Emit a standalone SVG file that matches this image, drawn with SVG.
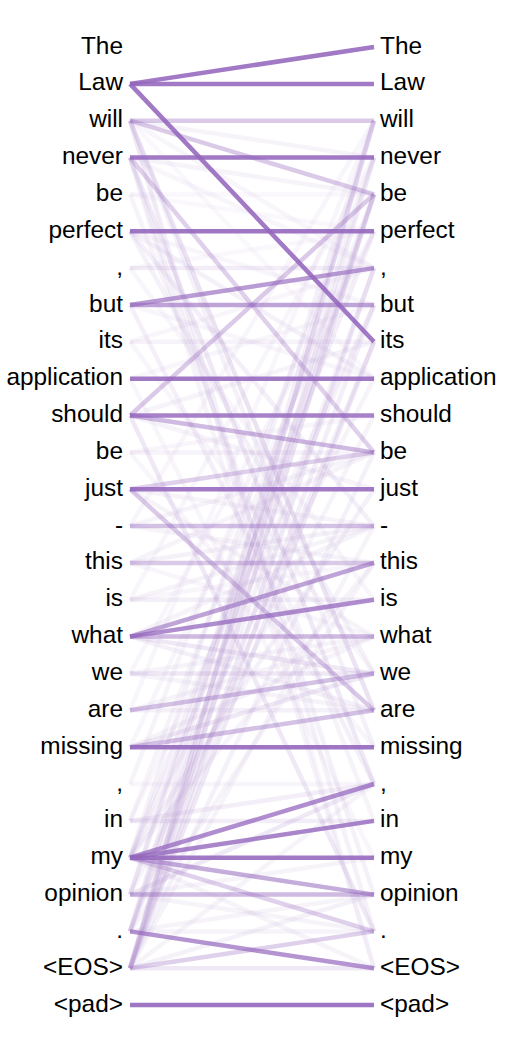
<svg xmlns="http://www.w3.org/2000/svg" width="514" height="1042" viewBox="0 0 514 1042">
<style>
.t{font-family:"Liberation Sans",Arial,sans-serif;font-size:24.4px;fill:#000}
.l{text-anchor:end}
.c line{stroke:#9467bd;stroke-width:4.5}
</style>
<rect width="514" height="1042" fill="#fff"/>
<g id="connectors" class="c">
<g opacity="0.72">
<line x1="130" y1="120.7" x2="374" y2="157.6" stroke-opacity="0.1"/>
<line x1="130" y1="120.7" x2="374" y2="268.1" stroke-opacity="0.08"/>
<line x1="130" y1="120.7" x2="374" y2="378.7" stroke-opacity="0.06"/>
<line x1="130" y1="120.7" x2="374" y2="747.2" stroke-opacity="0.12"/>
<line x1="130" y1="120.7" x2="374" y2="710.3" stroke-opacity="0.25"/>
<line x1="130" y1="120.7" x2="374" y2="931.4" stroke-opacity="0.12"/>
<line x1="130" y1="120.7" x2="374" y2="968.3" stroke-opacity="0.08"/>
<line x1="130" y1="157.6" x2="374" y2="194.4" stroke-opacity="0.1"/>
<line x1="130" y1="157.6" x2="374" y2="268.1" stroke-opacity="0.08"/>
<line x1="130" y1="157.6" x2="374" y2="784" stroke-opacity="0.2"/>
<line x1="130" y1="157.6" x2="374" y2="894.6" stroke-opacity="0.12"/>
<line x1="130" y1="157.6" x2="374" y2="968.3" stroke-opacity="0.1"/>
<line x1="130" y1="194.4" x2="374" y2="194.4" stroke-opacity="0.06"/>
<line x1="130" y1="194.4" x2="374" y2="231.3" stroke-opacity="0.06"/>
<line x1="130" y1="194.4" x2="374" y2="820.9" stroke-opacity="0.1"/>
<line x1="130" y1="231.3" x2="374" y2="378.7" stroke-opacity="0.12"/>
<line x1="130" y1="231.3" x2="374" y2="526.1" stroke-opacity="0.14"/>
<line x1="130" y1="231.3" x2="374" y2="305" stroke-opacity="0.08"/>
<line x1="130" y1="231.3" x2="374" y2="673.5" stroke-opacity="0.12"/>
<line x1="130" y1="268.1" x2="374" y2="231.3" stroke-opacity="0.06"/>
<line x1="130" y1="268.1" x2="374" y2="599.8" stroke-opacity="0.08"/>
<line x1="130" y1="305" x2="374" y2="378.7" stroke-opacity="0.08"/>
<line x1="130" y1="305" x2="374" y2="784" stroke-opacity="0.14"/>
<line x1="130" y1="341.8" x2="374" y2="268.1" stroke-opacity="0.08"/>
<line x1="130" y1="341.8" x2="374" y2="673.5" stroke-opacity="0.08"/>
<line x1="130" y1="378.7" x2="374" y2="305" stroke-opacity="0.08"/>
<line x1="130" y1="378.7" x2="374" y2="857.7" stroke-opacity="0.08"/>
<line x1="130" y1="415.5" x2="374" y2="489.2" stroke-opacity="0.1"/>
<line x1="130" y1="415.5" x2="374" y2="931.4" stroke-opacity="0.2"/>
<line x1="130" y1="415.5" x2="374" y2="341.8" stroke-opacity="0.1"/>
<line x1="130" y1="452.4" x2="374" y2="415.5" stroke-opacity="0.08"/>
<line x1="130" y1="452.4" x2="374" y2="747.2" stroke-opacity="0.08"/>
<line x1="130" y1="489.2" x2="374" y2="526.1" stroke-opacity="0.1"/>
<line x1="130" y1="489.2" x2="374" y2="636.6" stroke-opacity="0.1"/>
<line x1="130" y1="526.1" x2="374" y2="452.4" stroke-opacity="0.1"/>
<line x1="130" y1="526.1" x2="374" y2="562.9" stroke-opacity="0.1"/>
<line x1="130" y1="526.1" x2="374" y2="120.7" stroke-opacity="0.08"/>
<line x1="130" y1="562.9" x2="374" y2="526.1" stroke-opacity="0.12"/>
<line x1="130" y1="562.9" x2="374" y2="452.4" stroke-opacity="0.1"/>
<line x1="130" y1="562.9" x2="374" y2="636.6" stroke-opacity="0.08"/>
<line x1="130" y1="599.8" x2="374" y2="526.1" stroke-opacity="0.1"/>
<line x1="130" y1="599.8" x2="374" y2="562.9" stroke-opacity="0.08"/>
<line x1="130" y1="599.8" x2="374" y2="157.6" stroke-opacity="0.08"/>
<line x1="130" y1="636.6" x2="374" y2="673.5" stroke-opacity="0.2"/>
<line x1="130" y1="636.6" x2="374" y2="710.3" stroke-opacity="0.12"/>
<line x1="130" y1="636.6" x2="374" y2="526.1" stroke-opacity="0.1"/>
<line x1="130" y1="673.5" x2="374" y2="636.6" stroke-opacity="0.1"/>
<line x1="130" y1="673.5" x2="374" y2="710.3" stroke-opacity="0.1"/>
<line x1="130" y1="673.5" x2="374" y2="231.3" stroke-opacity="0.08"/>
<line x1="130" y1="710.3" x2="374" y2="710.3" stroke-opacity="0.12"/>
<line x1="130" y1="710.3" x2="374" y2="636.6" stroke-opacity="0.1"/>
<line x1="130" y1="710.3" x2="374" y2="120.7" stroke-opacity="0.08"/>
<line x1="130" y1="747.2" x2="374" y2="673.5" stroke-opacity="0.2"/>
<line x1="130" y1="747.2" x2="374" y2="636.6" stroke-opacity="0.1"/>
<line x1="130" y1="747.2" x2="374" y2="231.3" stroke-opacity="0.08"/>
<line x1="130" y1="784" x2="374" y2="784" stroke-opacity="0.08"/>
<line x1="130" y1="784" x2="374" y2="157.6" stroke-opacity="0.1"/>
<line x1="130" y1="820.9" x2="374" y2="784" stroke-opacity="0.15"/>
<line x1="130" y1="820.9" x2="374" y2="305" stroke-opacity="0.08"/>
<line x1="130" y1="820.9" x2="374" y2="194.4" stroke-opacity="0.1"/>
<line x1="130" y1="857.7" x2="374" y2="120.7" stroke-opacity="0.12"/>
<line x1="130" y1="857.7" x2="374" y2="231.3" stroke-opacity="0.15"/>
<line x1="130" y1="857.7" x2="374" y2="305" stroke-opacity="0.1"/>
<line x1="130" y1="857.7" x2="374" y2="489.2" stroke-opacity="0.12"/>
<line x1="130" y1="857.7" x2="374" y2="378.7" stroke-opacity="0.1"/>
<line x1="130" y1="857.7" x2="374" y2="562.9" stroke-opacity="0.1"/>
<line x1="130" y1="857.7" x2="374" y2="968.3" stroke-opacity="0.1"/>
<line x1="130" y1="894.6" x2="374" y2="784" stroke-opacity="0.2"/>
<line x1="130" y1="894.6" x2="374" y2="857.7" stroke-opacity="0.1"/>
<line x1="130" y1="894.6" x2="374" y2="931.4" stroke-opacity="0.1"/>
<line x1="130" y1="894.6" x2="374" y2="194.4" stroke-opacity="0.15"/>
<line x1="130" y1="894.6" x2="374" y2="157.6" stroke-opacity="0.12"/>
<line x1="130" y1="894.6" x2="374" y2="415.5" stroke-opacity="0.1"/>
<line x1="130" y1="931.4" x2="374" y2="894.6" stroke-opacity="0.1"/>
<line x1="130" y1="931.4" x2="374" y2="931.4" stroke-opacity="0.1"/>
<line x1="130" y1="931.4" x2="374" y2="194.4" stroke-opacity="0.2"/>
<line x1="130" y1="931.4" x2="374" y2="120.7" stroke-opacity="0.15"/>
<line x1="130" y1="931.4" x2="374" y2="341.8" stroke-opacity="0.15"/>
<line x1="130" y1="931.4" x2="374" y2="268.1" stroke-opacity="0.12"/>
<line x1="130" y1="931.4" x2="374" y2="562.9" stroke-opacity="0.1"/>
<line x1="130" y1="968.3" x2="374" y2="120.7" stroke-opacity="0.3"/>
<line x1="130" y1="968.3" x2="374" y2="194.4" stroke-opacity="0.25"/>
<line x1="130" y1="968.3" x2="374" y2="268.1" stroke-opacity="0.2"/>
<line x1="130" y1="968.3" x2="374" y2="341.8" stroke-opacity="0.2"/>
<line x1="130" y1="968.3" x2="374" y2="305" stroke-opacity="0.15"/>
<line x1="130" y1="968.3" x2="374" y2="157.6" stroke-opacity="0.15"/>
<line x1="130" y1="968.3" x2="374" y2="894.6" stroke-opacity="0.12"/>
<line x1="130" y1="968.3" x2="374" y2="784" stroke-opacity="0.1"/>
<line x1="130" y1="968.3" x2="374" y2="526.1" stroke-opacity="0.1"/>
<line x1="130" y1="968.3" x2="374" y2="452.4" stroke-opacity="0.12"/>
</g>
<line x1="130" y1="968.3" x2="374" y2="931.4" stroke-opacity="0.3"/>
<line x1="130" y1="968.3" x2="374" y2="968.3" stroke-opacity="0.15"/>
<line x1="130" y1="83.9" x2="374" y2="47" stroke-opacity="0.88"/>
<line x1="130" y1="83.9" x2="374" y2="83.9" stroke-opacity="0.88"/>
<line x1="130" y1="83.9" x2="374" y2="341.8" stroke-opacity="0.88"/>
<line x1="130" y1="120.7" x2="374" y2="120.7" stroke-opacity="0.35"/>
<line x1="130" y1="120.7" x2="374" y2="194.4" stroke-opacity="0.35"/>
<line x1="130" y1="157.6" x2="374" y2="157.6" stroke-opacity="0.88"/>
<line x1="130" y1="157.6" x2="374" y2="452.4" stroke-opacity="0.3"/>
<line x1="130" y1="231.3" x2="374" y2="231.3" stroke-opacity="0.9"/>
<line x1="130" y1="268.1" x2="374" y2="268.1" stroke-opacity="0.12"/>
<line x1="130" y1="305" x2="374" y2="268.1" stroke-opacity="0.65"/>
<line x1="130" y1="305" x2="374" y2="305" stroke-opacity="0.6"/>
<line x1="130" y1="341.8" x2="374" y2="341.8" stroke-opacity="0.08"/>
<line x1="130" y1="378.7" x2="374" y2="378.7" stroke-opacity="0.88"/>
<line x1="130" y1="415.5" x2="374" y2="415.5" stroke-opacity="0.82"/>
<line x1="130" y1="415.5" x2="374" y2="452.4" stroke-opacity="0.45"/>
<line x1="130" y1="415.5" x2="374" y2="194.4" stroke-opacity="0.35"/>
<line x1="130" y1="452.4" x2="374" y2="452.4" stroke-opacity="0.08"/>
<line x1="130" y1="489.2" x2="374" y2="489.2" stroke-opacity="0.88"/>
<line x1="130" y1="489.2" x2="374" y2="452.4" stroke-opacity="0.3"/>
<line x1="130" y1="489.2" x2="374" y2="710.3" stroke-opacity="0.35"/>
<line x1="130" y1="526.1" x2="374" y2="526.1" stroke-opacity="0.4"/>
<line x1="130" y1="562.9" x2="374" y2="562.9" stroke-opacity="0.35"/>
<line x1="130" y1="599.8" x2="374" y2="599.8" stroke-opacity="0.1"/>
<line x1="130" y1="636.6" x2="374" y2="562.9" stroke-opacity="0.6"/>
<line x1="130" y1="636.6" x2="374" y2="599.8" stroke-opacity="0.75"/>
<line x1="130" y1="636.6" x2="374" y2="636.6" stroke-opacity="0.45"/>
<line x1="130" y1="673.5" x2="374" y2="673.5" stroke-opacity="0.15"/>
<line x1="130" y1="710.3" x2="374" y2="673.5" stroke-opacity="0.4"/>
<line x1="130" y1="747.2" x2="374" y2="710.3" stroke-opacity="0.4"/>
<line x1="130" y1="747.2" x2="374" y2="747.2" stroke-opacity="0.9"/>
<line x1="130" y1="820.9" x2="374" y2="820.9" stroke-opacity="0.12"/>
<line x1="130" y1="857.7" x2="374" y2="784" stroke-opacity="0.75"/>
<line x1="130" y1="857.7" x2="374" y2="820.9" stroke-opacity="0.8"/>
<line x1="130" y1="857.7" x2="374" y2="857.7" stroke-opacity="0.88"/>
<line x1="130" y1="857.7" x2="374" y2="894.6" stroke-opacity="0.55"/>
<line x1="130" y1="857.7" x2="374" y2="931.4" stroke-opacity="0.3"/>
<line x1="130" y1="894.6" x2="374" y2="894.6" stroke-opacity="0.45"/>
<line x1="130" y1="931.4" x2="374" y2="968.3" stroke-opacity="0.7"/>
<line x1="130" y1="1005.1" x2="374" y2="1005.1" stroke-opacity="0.9"/>
</g>
<g id="source">
<text class="t l" x="123" y="53.5">The</text>
<text class="t l" x="123" y="90.4">Law</text>
<text class="t l" x="123" y="127.2">will</text>
<text class="t l" x="123" y="164.1">never</text>
<text class="t l" x="123" y="200.9">be</text>
<text class="t l" x="123" y="237.8">perfect</text>
<text class="t l" x="123" y="274.6">,</text>
<text class="t l" x="123" y="311.5">but</text>
<text class="t l" x="123" y="348.3">its</text>
<text class="t l" x="123" y="385.2">application</text>
<text class="t l" x="123" y="422">should</text>
<text class="t l" x="123" y="458.9">be</text>
<text class="t l" x="123" y="495.7">just</text>
<text class="t l" x="123" y="532.6">-</text>
<text class="t l" x="123" y="569.4">this</text>
<text class="t l" x="123" y="606.3">is</text>
<text class="t l" x="123" y="643.1">what</text>
<text class="t l" x="123" y="680">we</text>
<text class="t l" x="123" y="716.8">are</text>
<text class="t l" x="123" y="753.7">missing</text>
<text class="t l" x="123" y="790.5">,</text>
<text class="t l" x="123" y="827.4">in</text>
<text class="t l" x="123" y="864.2">my</text>
<text class="t l" x="123" y="901.1">opinion</text>
<text class="t l" x="123" y="937.9">.</text>
<text class="t l" x="123" y="974.8">&lt;EOS&gt;</text>
<text class="t l" x="123" y="1011.6">&lt;pad&gt;</text>
</g>
<g id="target">
<text class="t" x="380" y="53.5">The</text>
<text class="t" x="380" y="90.4">Law</text>
<text class="t" x="380" y="127.2">will</text>
<text class="t" x="380" y="164.1">never</text>
<text class="t" x="380" y="200.9">be</text>
<text class="t" x="380" y="237.8">perfect</text>
<text class="t" x="380" y="274.6">,</text>
<text class="t" x="380" y="311.5">but</text>
<text class="t" x="380" y="348.3">its</text>
<text class="t" x="380" y="385.2">application</text>
<text class="t" x="380" y="422">should</text>
<text class="t" x="380" y="458.9">be</text>
<text class="t" x="380" y="495.7">just</text>
<text class="t" x="380" y="532.6">-</text>
<text class="t" x="380" y="569.4">this</text>
<text class="t" x="380" y="606.3">is</text>
<text class="t" x="380" y="643.1">what</text>
<text class="t" x="380" y="680">we</text>
<text class="t" x="380" y="716.8">are</text>
<text class="t" x="380" y="753.7">missing</text>
<text class="t" x="380" y="790.5">,</text>
<text class="t" x="380" y="827.4">in</text>
<text class="t" x="380" y="864.2">my</text>
<text class="t" x="380" y="901.1">opinion</text>
<text class="t" x="380" y="937.9">.</text>
<text class="t" x="380" y="974.8">&lt;EOS&gt;</text>
<text class="t" x="380" y="1011.6">&lt;pad&gt;</text>
</g>
</svg>
